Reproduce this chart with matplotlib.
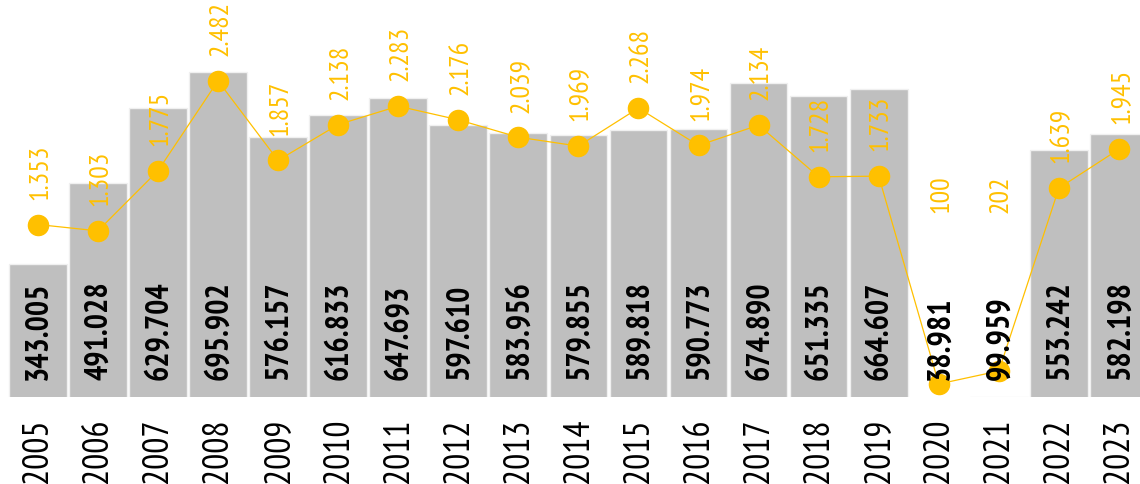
import matplotlib
matplotlib.use("Agg")
import matplotlib.pyplot as plt
from matplotlib import font_manager
from matplotlib.font_manager import FontProperties
from matplotlib.textpath import TextPath
import numpy as np

# data
years = [str(y) for y in range(2005, 2024)]
bar_values = [343005, 491028, 629704, 695902, 576157, 616833, 647693, 597610,
              583956, 579855, 589818, 590773, 674890, 651335, 664607, 38981,
              99959, 553242, 582198]
line_values = [1353, 1303, 1775, 2482, 1857, 2138, 2283, 2176, 2039, 1969,
               2268, 1974, 2134, 1728, 1733, 100, 202, 1639, 1945]

GRAY = "#BFBFBF"
YELLOW = "#FFC000"
LABEL_FLOOR = 1250  # small line values get their label lifted to this level
DPI = 100


def fmt(v):
    return f"{v:,}".replace(",", ".")


def ink(text, family, weight="normal"):
    # ink size in px for a 1pt font
    e = TextPath((0, 0), text, size=72,
                 prop=FontProperties(family=family, weight=weight)).get_extents()
    k = DPI / 72 / 72
    return e.width * k, e.height * k


def fit_size(text, family, length, height, weight="normal"):
    w, h = ink(text, family, weight)
    return (length / w) ** 0.6 * (height / h) ** 0.4


# pick a rounded condensed sans (with a bold face) close to the reference lettering
bold_ok = {f.name for f in font_manager.fontManager.ttflist if f.weight >= 700}
wanted = ["Roboto Condensed", "Archivo Narrow", "Sofia Sans Condensed",
          "Sofia Sans Extra Condensed", "Fira Sans Extra Condensed",
          "Fira Sans Condensed", "IBM Plex Sans Condensed",
          "Encode Sans Condensed", "Encode Sans Extra Condensed",
          "Asap Condensed", "PT Sans Narrow", "Open Sans Condensed",
          "Liberation Sans Narrow"]
have = [n for n in wanted if n in bold_ok] or ["DejaVu Sans"]
target = 58 / 27
family = min(have, key=lambda n: abs(np.divide(*ink("2005", n)) - target))

year_size = fit_size("2005", family, 58, 27)
bar_size = fit_size("343.005", family, 90, 25, "bold")
line_size = fit_size("1.353", family, 52, 20)

fig = plt.figure(figsize=(11.4, 4.85), dpi=DPI)
ax = fig.add_axes([0.0068, 0.18, 1.0011, 0.82])
x = np.arange(len(years))

ax.bar(x, bar_values, width=0.96, color=GRAY, edgecolor="#F0F0F0", linewidth=1)
ax.set_ylim(100000, 829200)
ax.set_xlim(-0.5, len(years) - 0.5)

ax2 = ax.twinx()
ax2.set_ylim(0, 3125)
ax2.plot(x, line_values, color=YELLOW, lw=0.9, marker="o", ms=14.5, zorder=3)

for i, v in enumerate(line_values):
    ax2.annotate(fmt(v), (i, max(v, LABEL_FLOOR)), xytext=(1.5, 18.5),
                 textcoords="offset points", rotation=90, ha="center",
                 va="bottom", color=YELLOW, fontsize=line_size, family=family)

# bar labels sit above the line, near the base of each bar
for i, v in enumerate(bar_values):
    ax2.annotate(fmt(v), (i, 100000), xycoords=ax.transData, xytext=(1, 12.5),
                 textcoords="offset points", rotation=90, ha="center",
                 va="bottom", color="black", fontsize=bar_size,
                 fontweight="bold", family=family, zorder=5)

ax.set_xticks(x)
ax.set_xticklabels(years, rotation=90, va="top", ha="center",
                   fontsize=year_size, family=family)
ax.tick_params(axis="x", length=0, pad=15)
ax.set_yticks([])
ax2.set_yticks([])
for a in (ax, ax2):
    for s in a.spines.values():
        s.set_visible(False)

fig.savefig("out.png", dpi=DPI)
